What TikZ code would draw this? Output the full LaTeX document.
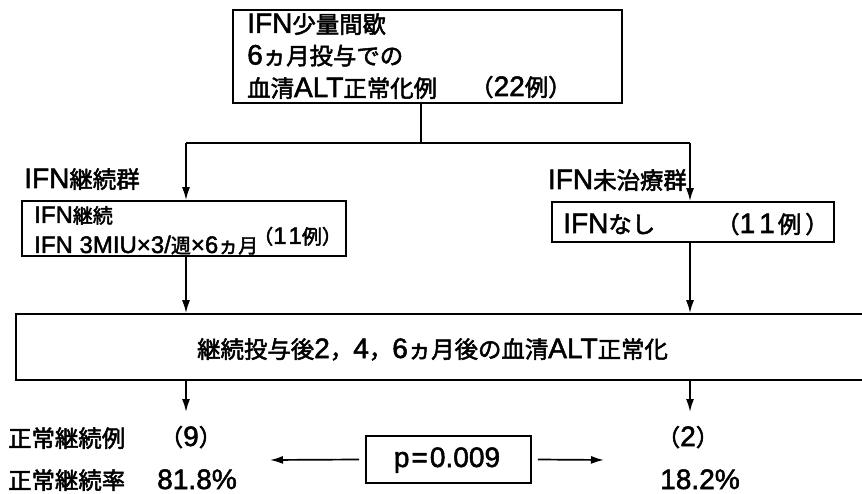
\documentclass[tikz,border=0pt]{standalone}
\usepackage{fontspec}
\setmainfont{Noto Sans CJK JP}[FakeBold=2.2]
\newfontfamily\latf{Liberation Sans}[Scale=1.2,FakeBold=1.8]
\newcommand\LA[1]{{\latf #1}}
\usetikzlibrary{arrows.meta}
\tikzset{
  boxline/.style={draw=black, line width=1.7pt},
  frame/.style={boxline, inner sep=0pt},
  txt/.style={inner sep=0pt, font=\fontsize{23.4}{28}\selectfont},
  stxt/.style={inner sep=0pt, font=\fontsize{20}{24}\selectfont},
  conn/.style={line width=1.7pt},
  arr/.style={conn, -{Latex[length=13pt,width=8pt]}},
}
\begin{document}
\begin{tikzpicture}[x=1pt,y=-1pt]
\useasboundingbox[fill=white] (0,0) rectangle (862,494);
% top box
\node[frame, minimum width=389pt, minimum height=93pt] (top) at (427.5,56.5) {};
\node[txt, anchor=base west] (t1) at (247,33) {\LA{IFN}少量間歇};
\node[txt, anchor=base west] (t2) at (247,64.5) {\LA{6}ヵ月投与での};
\node[txt, anchor=base west] (t3) at (247,97) {血清\LA{ALT}正常化例};
\node[txt, anchor=base west] (t4) at (470,96) {（\LA{22}例）};
% branch
\coordinate (bm) at (421,143);
\coordinate (bl) at (186,143);
\coordinate (br) at (690,143);
\draw[conn] (bm |- top.south) -- (bm);
\draw[conn] (bl) -- (br);
% left group
\node[txt, anchor=base west] (lg) at (24,188) {\LA{IFN}継続群};
\node[frame, minimum width=324pt, minimum height=55pt] (lbox) at (184,228.5) {};
\node[stxt, anchor=base west] (l1) at (34,223) {\LA{IFN}継続};
\node[stxt, anchor=base west] (l2) at (34,253) {\LA{IFN 3MIU×3/}週\LA{×6}ヵ月};
\node[stxt, anchor=base west] (l3) at (253,244) {（\LA{1\kern2pt 1}例）};
\draw[arr] (bl) -- (bl |- lbox.north);
% right group
\node[txt, anchor=base east] (rg) at (687,189) {\LA{IFN}未治療群};
\node[frame, minimum width=282pt, minimum height=40pt] (rbox) at (693,222) {};
\node[txt, anchor=base west] (r1) at (563,233) {\LA{IFN}なし};
\node[txt, anchor=base west] (r2) at (716,233) {（\LA{1\kern4pt 1\kern3pt}例\kern4pt）};
\draw[arr] (br) -- (br |- rbox.north);
% big box
\node[frame, minimum width=864pt, minimum height=66pt] (big) at (448,347) {};
\node[txt, anchor=base west] (bt) at (197,358) {継続投与後\LA{2}，\LA{4}，\LA{6}ヵ月後の血清\LA{ALT}正常化};
\draw[arr] (bl |- lbox.south) -- (bl |- big.north);
\draw[arr] (br |- rbox.south) -- (br |- big.north);
% results
\node[txt, anchor=base west] (e1) at (8,447) {正常継続例};
\node[txt, anchor=base west] (e2) at (8,489) {正常継続率};
\node[txt, anchor=base] (n9) at (191,446) {（\LA{9}）};
\node[txt, anchor=base west] (p9) at (157,489) {\LA{81.8\%}};
\node[txt, anchor=base] (n2) at (688,446) {（\LA{2}）};
\node[txt, anchor=base] (p2) at (700,489) {\LA{18.2\%}};
\coordinate (d9) at (186,412);
\coordinate (d2) at (690,412);
\draw[arr] (bl |- big.south) -- (d9);
\draw[arr] (br |- big.south) -- (d2);
% p box
\node[frame, minimum width=165pt, minimum height=47pt] (pb) at (448.5,459.5) {};
\node[txt, anchor=base] (pt) at (447,467) {\LA{p\kern2pt=\kern2pt 0.009}};
\coordinate (la) at (270,460);
\coordinate (ra) at (604,460);
\draw[arr] ([xshift=-6pt]pb.west) -- (la);
\draw[arr] ([xshift=6pt]pb.east) -- (ra);
\end{tikzpicture}
\end{document}
